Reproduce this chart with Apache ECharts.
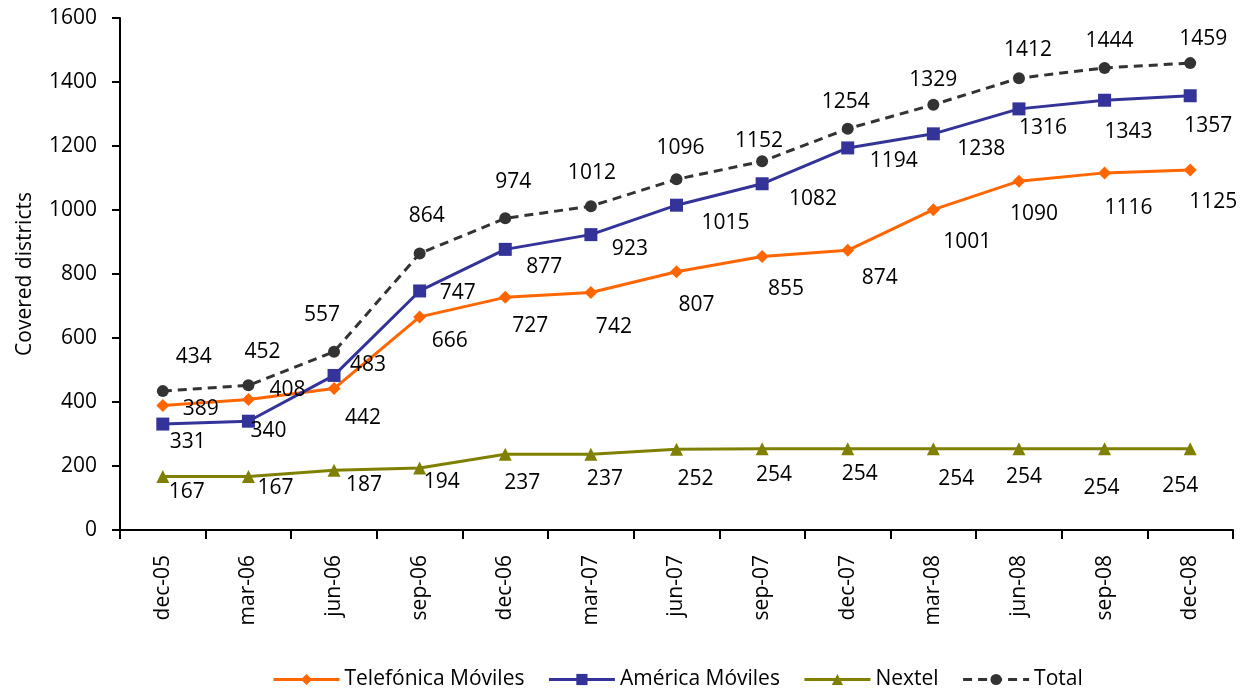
<!DOCTYPE html>
<html>
<head>
<meta charset="utf-8">
<script src="https://cdn.jsdelivr.net/npm/echarts@6/dist/echarts.min.js"></script>
<style>
html,body{margin:0;padding:0;background:#fff;}
#c{width:1243px;height:688px;}
</style>
</head>
<body>
<div id="c"></div>
<script>
const categories = ['dec-05','mar-06','jun-06','sep-06','dec-06','mar-07','jun-07','sep-07','dec-07','mar-08','jun-08','sep-08','dec-08'];
const telefonica = [389,408,442,666,727,742,807,855,874,1001,1090,1116,1125];
const america = [331,340,483,747,877,923,1015,1082,1194,1238,1316,1343,1357];
const nextel = [167,167,187,194,237,237,252,254,254,254,254,254,254];
const total = [434,452,557,864,974,1012,1096,1152,1254,1329,1412,1444,1459];
const seriesNames = ['Telefónica Móviles','América Móviles','Nextel','Total'];
const yTicks = [0,200,400,600,800,1000,1200,1400,1600];

// label offsets (layout only)
const offTel = [[38,3],[39,-9],[29,29],[30,24],[25,29],[23,34],[20,33],[24,33],[32,28],[34,32],[15,33],[24,35],[23,32]];
const offAm = [[25,18],[20,10],[34,-10],[38,2],[39,18],[39,14],[49,18],[51,15],[46,13],[48,15],[24,19],[24,32],[18,30]];
const offNx = [[24,15],[27,11],[30,15],[22,14],[17,29],[14,25],[19,30],[12,26],[12,25],[23,30],[5,28],[-3,39],[-10,37]];
const offTot = [[31,-34],[14,-33],[-12,-37],[7,-38],[8,-36],[1,-33],[4,-31],[-3,-20],[-2,-27],[0,-25],[9,-28],[5,-27],[13,-24]];

const FONT = 'Open Sans';
function mk(vals, offs){
  return vals.map((v,i)=>({value:v,label:{offset:offs[i]}}));
}
const lbl = {show:true, position:'inside', color:'#000', fontSize:21, fontFamily:FONT, align:'center', verticalAlign:'middle'};

const chart = echarts.init(document.getElementById('c'), null, {renderer:'canvas'});
chart.setOption({
  animation:false,
  backgroundColor:'#fff',
  grid:{left:120,right:10,top:18,bottom:158,containLabel:false},
  xAxis:{
    type:'category', data:categories, boundaryGap:true,
    axisLine:{lineStyle:{color:'#000',width:2}},
    axisTick:{show:true,alignWithLabel:false,length:9,lineStyle:{color:'#000',width:2}},
    axisLabel:{rotate:90,margin:25,color:'#000',fontSize:21,fontFamily:FONT,interval:0}
  },
  yAxis:{
    type:'value', min:0, max:1600, interval:200,
    name:'Covered districts', nameLocation:'middle', nameRotate:90, nameGap:84,
    nameTextStyle:{color:'#000',fontSize:21,fontFamily:FONT},
    axisLine:{show:true,lineStyle:{color:'#000',width:2}},
    axisTick:{show:true,length:8,lineStyle:{color:'#000',width:2}},
    axisLabel:{margin:23,color:'#000',fontSize:21,fontFamily:FONT,formatter:v=>yTicks.includes(v)?String(v):''},
    splitLine:{show:false}
  },
  legend:{
    top:669, left:272, padding:0, itemWidth:66, itemHeight:14, itemGap:23,
    lineStyle:{width:3},
    textStyle:{color:'#000',fontSize:21,fontFamily:FONT},
    data:seriesNames
  },
  series:[
    {name:seriesNames[0], type:'line', data:mk(telefonica,offTel), symbol:'diamond', symbolSize:13,
     lineStyle:{color:'#FF6600',width:3}, itemStyle:{color:'#FF6600'}, label:lbl},
    {name:seriesNames[1], type:'line', data:mk(america,offAm), symbol:'rect', symbolSize:13,
     lineStyle:{color:'#333399',width:3}, itemStyle:{color:'#333399'}, label:lbl},
    {name:seriesNames[2], type:'line', data:mk(nextel,offNx), symbol:'triangle', symbolSize:13,
     lineStyle:{color:'#808000',width:3}, itemStyle:{color:'#808000'}, label:lbl},
    {name:seriesNames[3], type:'line', data:mk(total,offTot), symbol:'circle', symbolSize:12,
     lineStyle:{color:'#333333',width:3,type:[9,6]}, itemStyle:{color:'#333333'}, label:lbl}
  ]
});
</script>
</body>
</html>
